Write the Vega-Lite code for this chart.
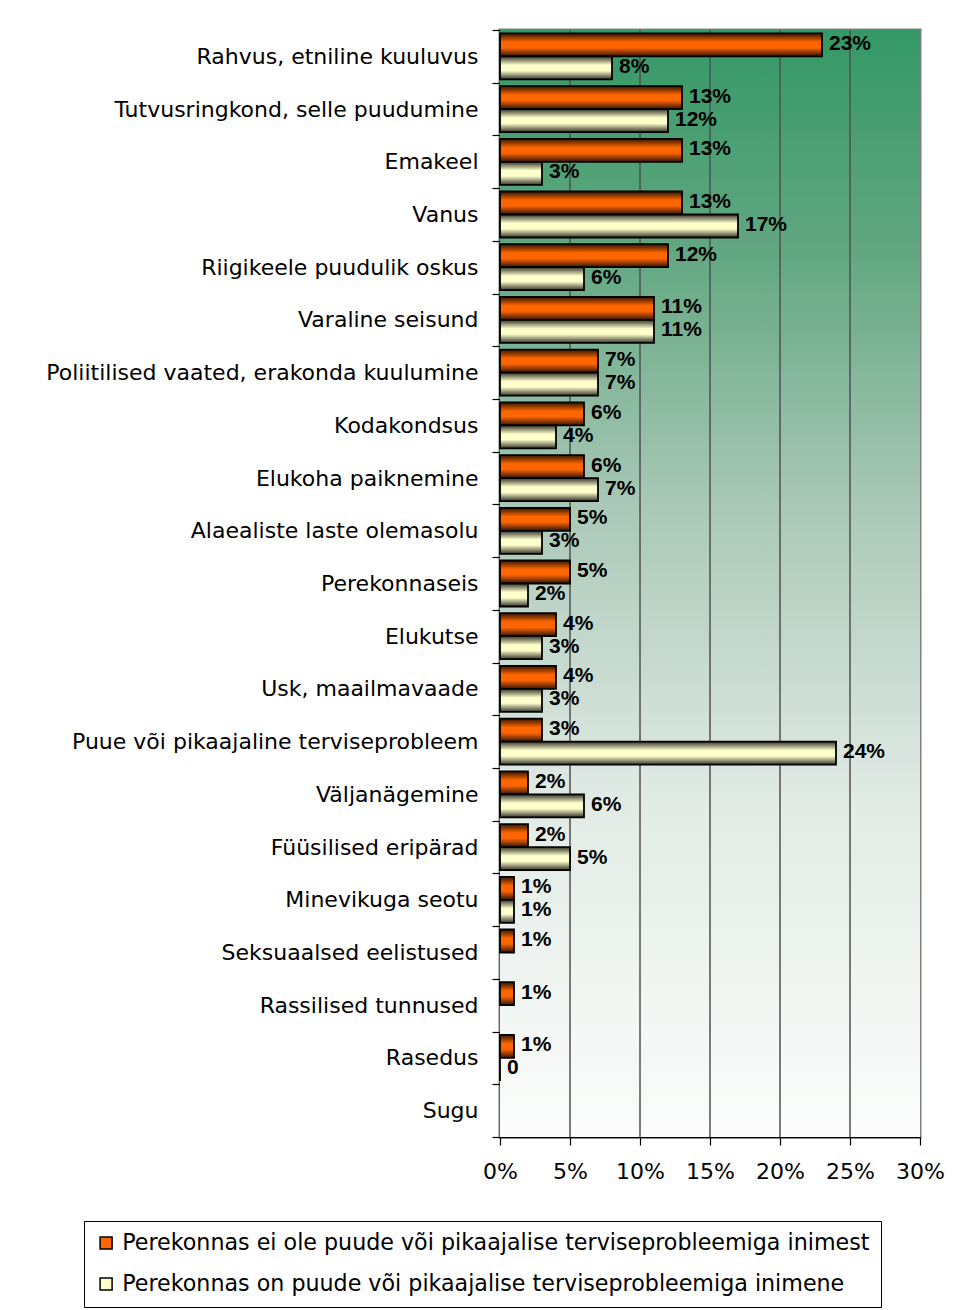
{
  "$schema": "https://vega.github.io/schema/vega-lite/v6.json",
  "autosize": {"type": "none"},
  "padding": {"left": 500, "top": 30, "right": 36, "bottom": 173},
  "width": 420,
  "height": 1107,
  "background": "white",
  "config": {
    "view": {"stroke": "#808080", "strokeWidth": 3},
    "axis": {"domainColor": "#000000", "domainWidth": 1.5, "tickColor": "#000000", "tickWidth": 1.2, "labelColor": "#000000"}
  },
  "layer": [
    {
      "data": {"values": [{"lo": 0, "hi": 30}]},
      "mark": {
        "type": "rect",
        "fill": {
          "gradient": "linear",
          "x1": 0.5, "y1": 0, "x2": 0.5, "y2": 1,
          "stops": [
            {"offset": 0, "color": "#349866"},
            {"offset": 0.2, "color": "#62a781"},
            {"offset": 0.43, "color": "#a9c8b7"},
            {"offset": 0.7, "color": "#e2ebe6"},
            {"offset": 1, "color": "#fcfdfc"}
          ]
        }
      },
      "encoding": {
        "x": {"field": "lo", "type": "quantitative", "title": null, "scale": {"domain": [0, 30], "nice": false}},
        "x2": {"field": "hi"}
      }
    },
    {
      "data": {"values": [{"g": 5}, {"g": 10}, {"g": 15}, {"g": 20}, {"g": 25}]},
      "mark": {"type": "rule", "color": "#505050", "strokeWidth": 1.5},
      "encoding": {
        "x": {"field": "g", "type": "quantitative", "title": null, "scale": {"domain": [0, 30], "nice": false}}
      }
    },
    {
      "data": {
        "values": [
          {"category": "Rahvus, etniline kuuluvus", "group": "Perekonnas ei ole puude või pikaajalise terviseprobleemiga inimest", "value": 23, "label": "23%"},
          {"category": "Rahvus, etniline kuuluvus", "group": "Perekonnas on puude või pikaajalise terviseprobleemiga inimene", "value": 8, "label": "8%"},
          {"category": "Tutvusringkond, selle puudumine", "group": "Perekonnas ei ole puude või pikaajalise terviseprobleemiga inimest", "value": 13, "label": "13%"},
          {"category": "Tutvusringkond, selle puudumine", "group": "Perekonnas on puude või pikaajalise terviseprobleemiga inimene", "value": 12, "label": "12%"},
          {"category": "Emakeel", "group": "Perekonnas ei ole puude või pikaajalise terviseprobleemiga inimest", "value": 13, "label": "13%"},
          {"category": "Emakeel", "group": "Perekonnas on puude või pikaajalise terviseprobleemiga inimene", "value": 3, "label": "3%"},
          {"category": "Vanus", "group": "Perekonnas ei ole puude või pikaajalise terviseprobleemiga inimest", "value": 13, "label": "13%"},
          {"category": "Vanus", "group": "Perekonnas on puude või pikaajalise terviseprobleemiga inimene", "value": 17, "label": "17%"},
          {"category": "Riigikeele puudulik oskus", "group": "Perekonnas ei ole puude või pikaajalise terviseprobleemiga inimest", "value": 12, "label": "12%"},
          {"category": "Riigikeele puudulik oskus", "group": "Perekonnas on puude või pikaajalise terviseprobleemiga inimene", "value": 6, "label": "6%"},
          {"category": "Varaline seisund", "group": "Perekonnas ei ole puude või pikaajalise terviseprobleemiga inimest", "value": 11, "label": "11%"},
          {"category": "Varaline seisund", "group": "Perekonnas on puude või pikaajalise terviseprobleemiga inimene", "value": 11, "label": "11%"},
          {"category": "Poliitilised vaated, erakonda kuulumine", "group": "Perekonnas ei ole puude või pikaajalise terviseprobleemiga inimest", "value": 7, "label": "7%"},
          {"category": "Poliitilised vaated, erakonda kuulumine", "group": "Perekonnas on puude või pikaajalise terviseprobleemiga inimene", "value": 7, "label": "7%"},
          {"category": "Kodakondsus", "group": "Perekonnas ei ole puude või pikaajalise terviseprobleemiga inimest", "value": 6, "label": "6%"},
          {"category": "Kodakondsus", "group": "Perekonnas on puude või pikaajalise terviseprobleemiga inimene", "value": 4, "label": "4%"},
          {"category": "Elukoha paiknemine", "group": "Perekonnas ei ole puude või pikaajalise terviseprobleemiga inimest", "value": 6, "label": "6%"},
          {"category": "Elukoha paiknemine", "group": "Perekonnas on puude või pikaajalise terviseprobleemiga inimene", "value": 7, "label": "7%"},
          {"category": "Alaealiste laste olemasolu", "group": "Perekonnas ei ole puude või pikaajalise terviseprobleemiga inimest", "value": 5, "label": "5%"},
          {"category": "Alaealiste laste olemasolu", "group": "Perekonnas on puude või pikaajalise terviseprobleemiga inimene", "value": 3, "label": "3%"},
          {"category": "Perekonnaseis", "group": "Perekonnas ei ole puude või pikaajalise terviseprobleemiga inimest", "value": 5, "label": "5%"},
          {"category": "Perekonnaseis", "group": "Perekonnas on puude või pikaajalise terviseprobleemiga inimene", "value": 2, "label": "2%"},
          {"category": "Elukutse", "group": "Perekonnas ei ole puude või pikaajalise terviseprobleemiga inimest", "value": 4, "label": "4%"},
          {"category": "Elukutse", "group": "Perekonnas on puude või pikaajalise terviseprobleemiga inimene", "value": 3, "label": "3%"},
          {"category": "Usk, maailmavaade", "group": "Perekonnas ei ole puude või pikaajalise terviseprobleemiga inimest", "value": 4, "label": "4%"},
          {"category": "Usk, maailmavaade", "group": "Perekonnas on puude või pikaajalise terviseprobleemiga inimene", "value": 3, "label": "3%"},
          {"category": "Puue või pikaajaline terviseprobleem", "group": "Perekonnas ei ole puude või pikaajalise terviseprobleemiga inimest", "value": 3, "label": "3%"},
          {"category": "Puue või pikaajaline terviseprobleem", "group": "Perekonnas on puude või pikaajalise terviseprobleemiga inimene", "value": 24, "label": "24%"},
          {"category": "Väljanägemine", "group": "Perekonnas ei ole puude või pikaajalise terviseprobleemiga inimest", "value": 2, "label": "2%"},
          {"category": "Väljanägemine", "group": "Perekonnas on puude või pikaajalise terviseprobleemiga inimene", "value": 6, "label": "6%"},
          {"category": "Füüsilised eripärad", "group": "Perekonnas ei ole puude või pikaajalise terviseprobleemiga inimest", "value": 2, "label": "2%"},
          {"category": "Füüsilised eripärad", "group": "Perekonnas on puude või pikaajalise terviseprobleemiga inimene", "value": 5, "label": "5%"},
          {"category": "Minevikuga seotu", "group": "Perekonnas ei ole puude või pikaajalise terviseprobleemiga inimest", "value": 1, "label": "1%"},
          {"category": "Minevikuga seotu", "group": "Perekonnas on puude või pikaajalise terviseprobleemiga inimene", "value": 1, "label": "1%"},
          {"category": "Seksuaalsed eelistused", "group": "Perekonnas ei ole puude või pikaajalise terviseprobleemiga inimest", "value": 1, "label": "1%"},
          {"category": "Rassilised tunnused", "group": "Perekonnas ei ole puude või pikaajalise terviseprobleemiga inimest", "value": 1, "label": "1%"},
          {"category": "Rasedus", "group": "Perekonnas ei ole puude või pikaajalise terviseprobleemiga inimest", "value": 1, "label": "1%"},
          {"category": "Rasedus", "group": "Perekonnas on puude või pikaajalise terviseprobleemiga inimene", "value": 0, "label": "0"}
        ]
      },
      "encoding": {
        "y": {
          "field": "category",
          "type": "nominal",
          "title": null,
          "scale": {
            "domain": ["Rahvus, etniline kuuluvus", "Tutvusringkond, selle puudumine", "Emakeel", "Vanus", "Riigikeele puudulik oskus", "Varaline seisund", "Poliitilised vaated, erakonda kuulumine", "Kodakondsus", "Elukoha paiknemine", "Alaealiste laste olemasolu", "Perekonnaseis", "Elukutse", "Usk, maailmavaade", "Puue või pikaajaline terviseprobleem", "Väljanägemine", "Füüsilised eripärad", "Minevikuga seotu", "Seksuaalsed eelistused", "Rassilised tunnused", "Rasedus", "Sugu"],
            "paddingInner": 0,
            "paddingOuter": 0
          },
          "axis": {
            "tickBand": "extent",
            "tickSize": 8,
            "labelPadding": 14,
            "labelFont": "DejaVu Sans",
            "labelFontSize": 22,
            "labelLimit": 600,
            "grid": false
          }
        },
        "yOffset": {
          "field": "group",
          "type": "nominal",
          "scale": {
            "domain": ["Perekonnas ei ole puude või pikaajalise terviseprobleemiga inimest", "Perekonnas on puude või pikaajalise terviseprobleemiga inimene"],
            "paddingInner": 0,
            "paddingOuter": 0.146
          }
        },
        "x": {
          "field": "value",
          "type": "quantitative",
          "title": null,
          "scale": {"domain": [0, 30], "nice": false},
          "axis": {
            "values": [0, 5, 10, 15, 20, 25, 30],
            "labelExpr": "datum.value + '%'",
            "labelFlush": false,
            "tickSize": 8,
            "labelPadding": 16,
            "labelFont": "DejaVu Sans",
            "labelFontSize": 22,
            "grid": false
          }
        }
      },
      "layer": [
        {
          "mark": {"type": "bar", "stroke": "#000000", "strokeWidth": 1.8},
          "encoding": {
            "fill": {
              "field": "group",
              "type": "nominal",
              "scale": {
                "domain": ["Perekonnas ei ole puude või pikaajalise terviseprobleemiga inimest", "Perekonnas on puude või pikaajalise terviseprobleemiga inimene"],
                "range": ["#ff6600", "#ffffcc"]
              },
              "legend": {
                "title": null,
                "orient": "none",
                "legendX": -416,
                "legendY": 1191,
                "direction": "vertical",
                "symbolType": "square",
                "symbolSize": 144,
                "symbolStrokeColor": "#000000",
                "symbolStrokeWidth": 1.5,
                "symbolOpacity": 1,
                "labelFont": "DejaVu Sans",
                "labelFontSize": 22.2,
                "labelColor": "#000000",
                "labelLimit": 900,
                "labelOffset": 5,
                "rowPadding": 18,
                "padding": 11,
                "strokeColor": "#000000",
                "fillColor": "#ffffff",
                "cornerRadius": 0
              }
            }
          }
        },
        {
          "mark": {
            "type": "bar",
            "strokeWidth": 0,
            "fill": {
              "gradient": "linear",
              "x1": 0, "y1": 0, "x2": 0, "y2": 1,
              "stops": [
                {"offset": 0, "color": "rgba(0,0,0,0.8)"},
                {"offset": 0.38, "color": "rgba(0,0,0,0)"},
                {"offset": 0.62, "color": "rgba(0,0,0,0)"},
                {"offset": 1, "color": "rgba(0,0,0,0.8)"}
              ]
            }
          },
          "encoding": {}
        },
        {
          "mark": {
            "type": "text",
            "align": "left",
            "baseline": "middle",
            "dx": 7,
            "dy": -1,
            "font": "Liberation Sans",
            "fontWeight": "bold",
            "fontSize": 21,
            "color": "#000000"
          },
          "encoding": {
            "text": {"field": "label", "type": "nominal"}
          }
        }
      ]
    }
  ]
}
